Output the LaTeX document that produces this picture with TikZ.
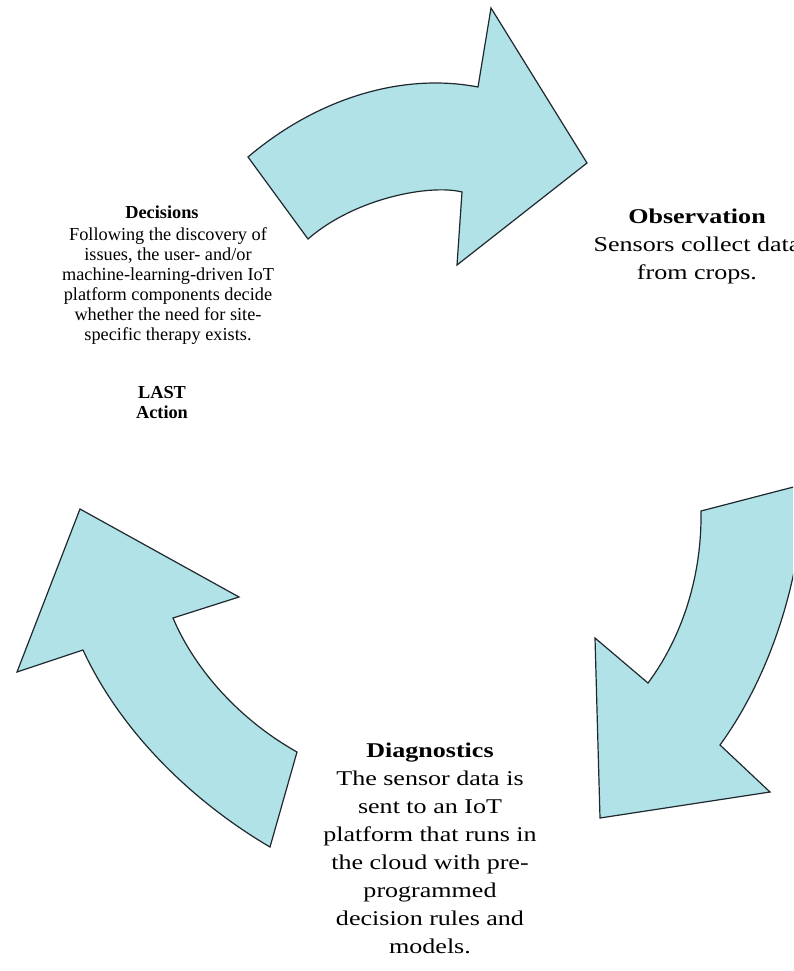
\documentclass[tikz,border=0pt]{standalone}
\usepackage{fontspec}
\setmainfont{Liberation Serif}
\newfontfamily\bigserif[FakeStretch=1.24]{Liberation Serif}
\definecolor{arrowfill}{RGB}{176,226,232}
\definecolor{arrowline}{RGB}{30,40,45}
\begin{document}
\begin{tikzpicture}[x=1pt,y=-1pt,
  arrowshape/.style={fill=arrowfill, draw=arrowline, line width=1.2pt, line join=miter},
  bigline/.style={font=\bigserif\fontsize{21}{28}\selectfont, anchor=base, inner sep=0pt},
  bigbold/.style={font=\bigserif\bfseries\fontsize{21}{28}\selectfont, anchor=base, inner sep=0pt},
  smallline/.style={font=\fontsize{18.3}{20}\selectfont, anchor=base, inner sep=0pt},
  smallbold/.style={font=\bfseries\fontsize{18.3}{20}\selectfont, anchor=base, inner sep=0pt}]
\useasboundingbox (0,0) rectangle (793,971);
\clip (0,0) rectangle (793,971);
\fill[white] (0,0) rectangle (793,971);

% top arrow
\draw[arrowshape] (248,157) .. controls (315,100) and (400,72) .. (478,87)
  -- (491,8) -- (587,163) -- (457,265) -- (462,192)
  .. controls (430,184) and (355,198) .. (308,239) -- cycle;
% right arrow
\draw[arrowshape] (701,511) -- (805,484) .. controls (800,600) and (760,690) .. (720,745)
  -- (770,792) -- (600,818) -- (595,638) -- (648,683)
  .. controls (680,640) and (702,580) .. (701,511) -- cycle;
% left arrow
\draw[arrowshape] (80,509) -- (239,597) -- (173,618)
  .. controls (195,670) and (240,720) .. (297,752) -- (270,847)
  .. controls (190,800) and (120,730) .. (83,650) -- (17,672) -- cycle;

% Observation
\node[bigbold] (obs1) at (697,223) {Observation};
\node[bigline] (obs2) at (697,251) {Sensors collect data};
\node[bigline] (obs3) at (697,279) {from crops.};

% Diagnostics
\node[bigbold] (dg1) at (430,757) {Diagnostics};
\node[bigline] (dg2) at (430,785) {The sensor data is};
\node[bigline] (dg3) at (430,813) {sent to an IoT};
\node[bigline] (dg4) at (430,841) {platform that runs in};
\node[bigline] (dg5) at (430,869) {the cloud with pre-};
\node[bigline] (dg6) at (430,897) {programmed};
\node[bigline] (dg7) at (430,925) {decision rules and};
\node[bigline] (dg8) at (430,953) {models.};

% Decisions
\node[smallbold] (dc0) at (162,218) {Decisions};
\node[smallline] (dc1) at (168,240) {Following the discovery of};
\node[smallline] (dc2) at (168,260) {issues, the user- and/or};
\node[smallline] (dc3) at (168,280) {machine-learning-driven IoT};
\node[smallline] (dc4) at (168,300) {platform components decide};
\node[smallline] (dc5) at (168,320) {whether the need for site-};
\node[smallline] (dc6) at (168,340) {specific therapy exists.};
\node[smallbold] (la1) at (162,398) {LAST};
\node[smallbold] (la2) at (162,418) {Action};
\end{tikzpicture}
\end{document}
